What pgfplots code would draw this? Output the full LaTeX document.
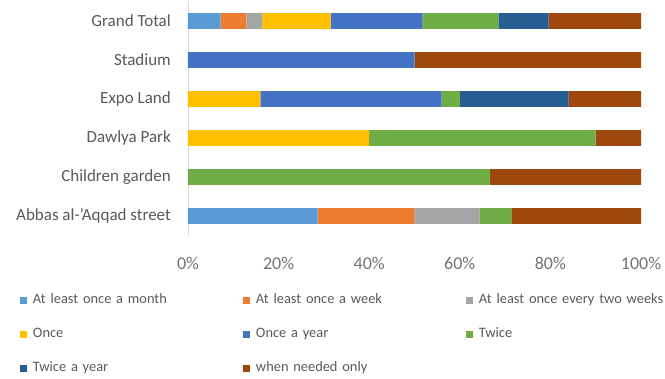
\documentclass[border=0pt]{standalone}
\usepackage{fontspec}
\setmainfont{Carlito}
\usepackage{pgfplots}
\pgfplotsset{compat=1.18}
\definecolor{cMonth}{HTML}{5B9BD5}
\definecolor{cWeek}{HTML}{ED7D31}
\definecolor{cTwoW}{HTML}{A5A5A5}
\definecolor{cOnce}{HTML}{FFC000}
\definecolor{cYear}{HTML}{4472C4}
\definecolor{cTwice}{HTML}{70AD47}
\definecolor{cTwiceY}{HTML}{255E91}
\definecolor{cNeed}{HTML}{9E480E}
\definecolor{txt}{HTML}{595959}
\begin{document}
\begin{tikzpicture}
\useasboundingbox (0pt,0pt) rectangle (665pt,-379pt);
\begin{axis}[
  at={(188pt,-235.5pt)}, anchor=south west,
  width=453pt, height=234pt, scale only axis,
  xbar stacked, bar width=15.6pt,
  xmin=0, xmax=100, ymin=-0.5, ymax=5.5,
  ytick={0,1,2,3,4,5},
  yticklabels={Abbas al-'Aqqad street, Children garden, Dawlya Park, Expo Land, Stadium, Grand Total},
  xtick={0,20,40,60,80,100},
  xticklabel={\pgfmathprintnumber{\tick}\%},
  /pgf/number format/assume math mode=true,
  axis lines*=left,
  x axis line style={draw=none},
  y axis line style={draw=black!15, line width=0.8pt},
  major tick length=0pt, tick style={draw=none},
  yticklabel style={font=\fontsize{17}{19}\selectfont, text=txt, anchor=east, inner xsep=0pt, xshift=-17pt},
  xticklabel style={font=\fontsize{18}{20}\selectfont, text=txt!85, anchor=center, yshift=-27.5pt},
  every axis plot/.append style={draw=none},
  legend columns=3,
  legend cell align=left,
  legend image code/.code={\fill[#1] (0pt,-3.5pt) rectangle (7pt,3.5pt);},
  legend style={draw=none, fill=none, inner sep=0pt, outer sep=0pt,
    at={(-0.3709,-0.2415)}, anchor=north west,
    font=\fontsize{14.4}{17}\selectfont, text=txt, row sep=18pt,
    nodes={text width=204pt, align=left, inner xsep=6pt, inner ysep=2pt, text height=9pt, text depth=3pt}},
]
\addplot[fill=cMonth] coordinates {(28.6,0) (0,1) (0,2) (0,3) (0,4) (7.2,5)};
\addlegendentry{At least once a month}
\addplot[fill=cWeek] coordinates {(21.4,0) (0,1) (0,2) (0,3) (0,4) (5.7,5)};
\addlegendentry{At least once a week}
\addplot[fill=cTwoW] coordinates {(14.3,0) (0,1) (0,2) (0,3) (0,4) (3.5,5)};
\addlegendentry{At least once every two weeks}
\addplot[fill=cOnce] coordinates {(0,0) (0,1) (40,2) (16,3) (0,4) (15.1,5)};
\addlegendentry{Once}
\addplot[fill=cYear] coordinates {(0,0) (0,1) (0,2) (40,3) (50,4) (20.3,5)};
\addlegendentry{Once a year}
\addplot[fill=cTwice] coordinates {(7.1,0) (66.7,1) (50,2) (4,3) (0,4) (16.7,5)};
\addlegendentry{Twice}
\addplot[fill=cTwiceY] coordinates {(0,0) (0,1) (0,2) (24,3) (0,4) (11.1,5)};
\addlegendentry{Twice a year}
\addplot[fill=cNeed] coordinates {(28.6,0) (33.3,1) (10,2) (16,3) (50,4) (20.4,5)};
\addlegendentry{when needed only}
\end{axis}
\end{tikzpicture}
\end{document}
